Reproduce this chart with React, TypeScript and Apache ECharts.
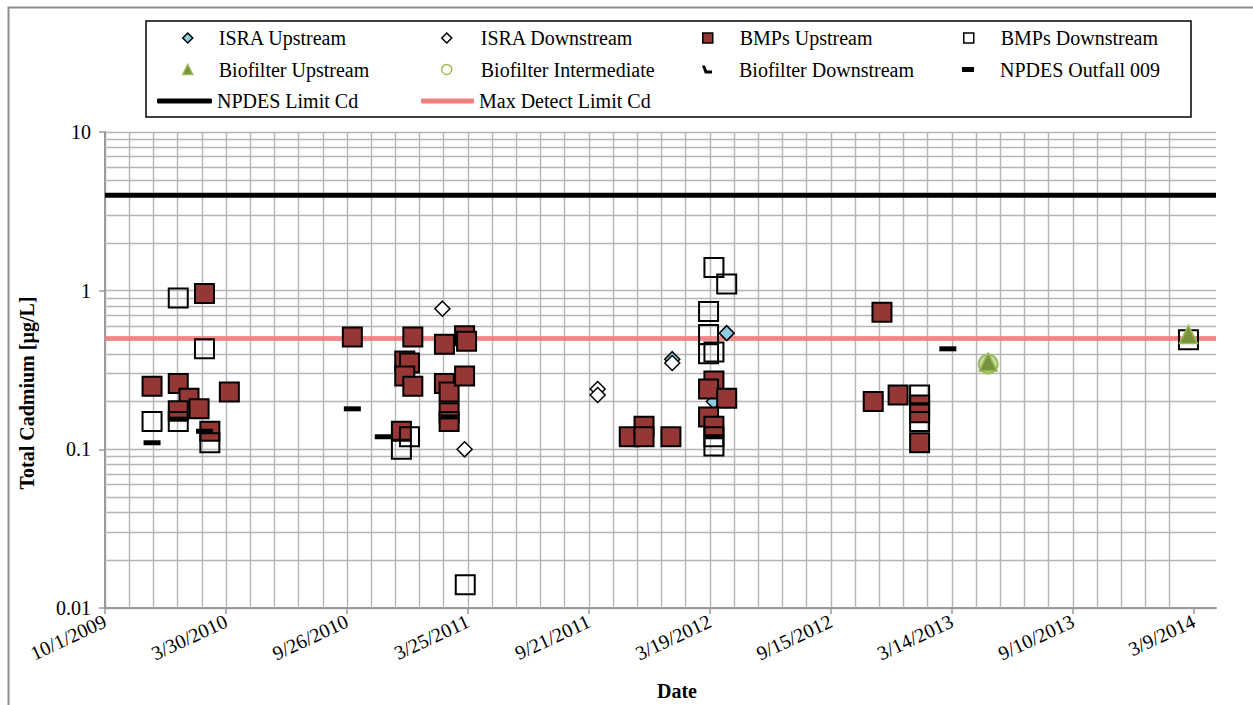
import React, { useEffect, useRef } from "react";
import * as echarts from "echarts";

// ---------- data ----------
const START_DATE = "2009-10-01";
const END_DATE = "2014-04-11";
const TICK_DAYS = 180;
const MINOR_DAYS = 36;
const xTickDates = [
  "2009-10-01", "2010-03-30", "2010-09-26", "2011-03-25", "2011-09-21",
  "2012-03-19", "2012-09-15", "2013-03-14", "2013-09-10", "2014-03-09",
];
const yMin = 0.01;
const yMax = 10;

const npdesLimitCd = 4;
const maxDetectLimitCd = 0.5;

const israUpstream: [string, number][] = [
  ["2012-01-23", 0.37], ["2012-03-25", 0.2], ["2012-04-13", 0.54],
];
const israDownstream: [string, number][] = [
  ["2011-02-15", 0.77], ["2011-03-20", 0.1], ["2011-10-04", 0.24],
  ["2011-10-04", 0.22], ["2012-01-23", 0.35],
];
const bmpsUpstream: [string, number][] = [
  ["2009-12-10", 0.25], ["2010-01-18", 0.26], ["2010-02-03", 0.21],
  ["2010-01-18", 0.175], ["2010-02-18", 0.18], ["2010-02-26", 0.96],
  ["2010-03-06", 0.13], ["2010-04-04", 0.23],
  ["2010-10-04", 0.51], ["2011-01-02", 0.51], ["2010-12-21", 0.36],
  ["2010-12-28", 0.35], ["2010-12-21", 0.29], ["2011-01-02", 0.25],
  ["2011-02-18", 0.46], ["2011-03-20", 0.52], ["2011-03-23", 0.48],
  ["2011-02-18", 0.26], ["2011-02-25", 0.23], ["2011-03-20", 0.29],
  ["2011-02-25", 0.17], ["2011-02-25", 0.15], ["2010-12-16", 0.13],
  ["2011-11-20", 0.12], ["2011-12-12", 0.14], ["2011-12-12", 0.12],
  ["2012-01-21", 0.12], ["2012-03-25", 0.27], ["2012-03-17", 0.24],
  ["2012-04-13", 0.21], ["2012-03-17", 0.16], ["2012-03-25", 0.14],
  ["2012-11-30", 0.73], ["2012-11-17", 0.2], ["2012-12-24", 0.22],
  ["2013-01-25", 0.19], ["2013-01-25", 0.17], ["2013-01-25", 0.11],
];
const bmpsDownstream: [string, number][] = [
  ["2009-12-10", 0.15], ["2010-01-18", 0.9], ["2010-01-18", 0.15],
  ["2010-02-26", 0.43], ["2010-03-06", 0.11], ["2010-12-28", 0.12],
  ["2010-12-16", 0.1], ["2011-03-21", 0.014], ["2012-03-25", 1.4],
  ["2012-04-13", 1.1], ["2012-03-17", 0.74], ["2012-03-17", 0.53],
  ["2012-03-17", 0.4], ["2012-03-25", 0.41], ["2012-03-25", 0.12],
  ["2012-03-25", 0.105], ["2013-01-25", 0.22], ["2013-01-25", 0.15],
  ["2014-03-01", 0.49],
];
const biofilterUpstream: [string, number][] = [
  ["2013-05-07", 0.355], ["2014-03-01", 0.53],
];
const biofilterIntermediate: [string, number][] = [["2013-05-07", 0.345]];
const biofilterDownstream: [string, number][] = [];
const npdesOutfall009: [string, number][] = [
  ["2009-12-10", 0.11], ["2010-01-18", 0.155], ["2010-02-26", 0.13],
  ["2010-10-04", 0.18], ["2010-11-19", 0.12], ["2011-02-25", 0.16],
  ["2012-03-25", 0.12], ["2013-03-08", 0.43],
];

// ---------- helpers ----------
const DAY = 86400000;
const t0 = Date.parse(START_DATE + "T00:00:00Z");
const toDay = (s: string) => Math.round((Date.parse(s + "T00:00:00Z") - t0) / DAY);
const fmtDay = (v: number) => {
  const dt = new Date(t0 + Math.round(v) * DAY);
  return `${dt.getUTCMonth() + 1}/${dt.getUTCDate()}/${dt.getUTCFullYear()}`;
};
const xMax = toDay(END_DATE);
const conv = (arr: [string, number][]) => arr.map(([s, v]) => [toDay(s), v]);

const FONT = "Liberation Serif";
const GRID = "#b5b5b5";
const labelRich = { t: { fontFamily: FONT, fontSize: 20, color: "#000" } };

export default function App() {
  const ref = useRef<HTMLDivElement>(null);
  useEffect(() => {
    if (!ref.current) return;
    const chart = echarts.init(ref.current, undefined, { renderer: "svg" });

    const minorY: number[] = [];
    for (let dec = yMin; dec < yMax * 0.99; dec *= 10) {
      for (let m = 2; m <= 9; m++) minorY.push(+(m * dec).toPrecision(3));
    }
    const minorX: number[] = [];
    for (let v = MINOR_DAYS; v < xMax; v += MINOR_DAYS) {
      if (v % TICK_DAYS !== 0) minorX.push(v);
    }
    const tickVals = xTickDates.map(toDay);

    const sq = (name: string, data: any, fill: string) => ({
      type: "scatter", name, data: conv(data), symbol: "rect", symbolSize: 19, z: 3,
      itemStyle: { color: fill, borderColor: "#000", borderWidth: 2, opacity: 1 },
    });

    const series: any[] = [
      {
        type: "line", name: "gridhelper", data: [[0, npdesLimitCd], [xMax, npdesLimitCd]],
        symbol: "none", lineStyle: { opacity: 0 }, silent: true, z: 1,
        markLine: {
          z: 1, silent: true, symbol: ["none", "none"], label: { show: false }, animation: false,
          lineStyle: { color: GRID, width: 1.4, type: "solid" },
          emphasis: { disabled: true },
          data: [...minorY.map((v) => ({ yAxis: v })), ...minorX.map((v) => ({ xAxis: v }))],
        },
      },
      {
        type: "line", name: "NPDES Limit Cd", z: 2, symbol: "none", showSymbol: false, silent: true,
        data: [[0, npdesLimitCd], [xMax, npdesLimitCd]],
        lineStyle: { color: "#000", width: 5 }, itemStyle: { color: "#000" },
      },
      {
        type: "line", name: "Max Detect Limit Cd", z: 2, symbol: "none", showSymbol: false, silent: true,
        data: [[0, maxDetectLimitCd], [xMax, maxDetectLimitCd]],
        lineStyle: { color: "#f37c7c", width: 5, opacity: 0.85 }, itemStyle: { color: "#f37c7c" },
      },
      {
        type: "scatter", name: "ISRA Upstream", data: conv(israUpstream), symbol: "diamond",
        symbolSize: 15, z: 3,
        itemStyle: { color: "#8fcbe0", borderColor: "#000", borderWidth: 1.5, opacity: 1 },
      },
      {
        type: "scatter", name: "ISRA Downstream", data: conv(israDownstream), symbol: "diamond",
        symbolSize: 15, z: 3,
        itemStyle: { color: "#ffffff", borderColor: "#000", borderWidth: 1.5, opacity: 1 },
      },
      sq("BMPs Upstream", bmpsUpstream, "#953735"),
      sq("BMPs Downstream", bmpsDownstream, "rgba(255,255,255,0)"),
      {
        type: "scatter", name: "Biofilter Intermediate", data: conv(biofilterIntermediate),
        symbol: "circle", symbolSize: 19, z: 3,
        itemStyle: { color: "rgba(155,187,89,0.55)", borderColor: "#9bbb59", borderWidth: 2, opacity: 1 },
      },
      {
        type: "scatter", name: "Biofilter Upstream", data: conv(biofilterUpstream),
        symbol: "triangle", symbolSize: 18, z: 3,
        itemStyle: { color: "#77933c", borderColor: "#9bbb59", borderWidth: 1.5, opacity: 1 },
      },
      {
        type: "scatter", name: "Biofilter Downstream", data: conv(biofilterDownstream),
        symbol: "path://M0,0 L4,0 L7,7 L14,7 L14,11 L4,11 Z", symbolSize: 10, z: 3,
        itemStyle: { color: "#000", opacity: 1 },
      },
      {
        type: "scatter", name: "NPDES Outfall 009", data: conv(npdesOutfall009),
        symbol: "rect", symbolSize: [17, 5], z: 4,
        itemStyle: { color: "#000", opacity: 1 },
      },
    ];

    const rows = [38, 69.5, 101];
    const legendDefs: any[] = [
      { name: "ISRA Upstream", left: 182, row: 0, w: 10, h: 10, pad: 21 },
      { name: "ISRA Downstream", left: 441, row: 0, w: 10, h: 10, pad: 24 },
      { name: "BMPs Upstream", left: 702, row: 0, w: 10, h: 10, pad: 22 },
      { name: "BMPs Downstream", left: 963, row: 0, w: 10, h: 10, pad: 22 },
      { name: "Biofilter Upstream", left: 182, row: 1, w: 10, h: 10, pad: 21 },
      { name: "Biofilter Intermediate", left: 441, row: 1, w: 10, h: 10, pad: 24,
        itemStyle: { color: "#ffffff", borderColor: "#9bbb59", borderWidth: 1.5 } },
      { name: "Biofilter Downstream", left: 702, row: 1, w: 10, h: 9, pad: 22 },
      { name: "NPDES Outfall 009", left: 962, row: 1, w: 12, h: 5, pad: 21 },
      { name: "NPDES Limit Cd", left: 157, row: 2, w: 55, h: 5, pad: 0, icon: "roundRect",
        itemStyle: { color: "#000", borderWidth: 0 } },
      { name: "Max Detect Limit Cd", left: 421, row: 2, w: 53, h: 5, pad: 0, icon: "roundRect",
        itemStyle: { color: "#f37c7c", borderWidth: 0 } },
    ];
    const legend = legendDefs.map((l) => {
      const item: any = { name: l.name };
      if (l.itemStyle) item.itemStyle = l.itemStyle;
      if (l.icon) item.icon = l.icon;
      return {
        show: true, left: l.left, top: rows[l.row] - 11, padding: 0, orient: "horizontal",
        itemWidth: l.w, itemHeight: l.h, selectedMode: false,
        itemStyle: { borderWidth: 1.5 },
        data: [item],
        textStyle: {
          fontFamily: FONT, fontSize: 20, color: "#000", lineHeight: 22,
          padding: [0, 0, 0, l.pad],
        },
      };
    });

    chart.setOption({
      animation: false,
      backgroundColor: "#ffffff",
      textStyle: { fontFamily: FONT, fontSize: 20 },
      grid: { left: 105, top: 132, right: 37, bottom: 97, containLabel: false },
      legend,
      xAxis: {
        type: "value", min: 0, max: xMax, interval: TICK_DAYS,
        axisLine: { show: true, onZero: false, lineStyle: { color: "#9a9a9a", width: 2 } },
        axisTick: { show: true, length: 6, customValues: tickVals, lineStyle: { color: "#9a9a9a", width: 1.5 } },
        axisLabel: {
          customValues: tickVals, rotate: 25, margin: 12,
          fontFamily: FONT, fontSize: 20, color: "#000",
          rich: labelRich,
          formatter: (v: number) => `{t|${fmtDay(v)}}`,
        },
        splitLine: { show: true, showMaxLine: false, lineStyle: { color: GRID, width: 1.4 } },
      },
      yAxis: {
        type: "log", logBase: 10, min: yMin, max: yMax,
        axisLine: { show: true, lineStyle: { color: "#9a9a9a", width: 2 } },
        axisTick: { show: true, length: 6, lineStyle: { color: "#9a9a9a", width: 1.5 } },
        axisLabel: {
          margin: 14, fontFamily: FONT, fontSize: 20, color: "#000",
          rich: labelRich,
          formatter: (v: number) => `{t|${+(+v).toPrecision(2)}}`,
        },
        splitLine: { show: true, lineStyle: { color: GRID, width: 1.4 } },
      },
      graphic: [
        { type: "rect", left: 6, top: 5, shape: { x: 0, y: 0, width: 1300, height: 760 },
          style: { fill: "none", stroke: "#8c8c8c", lineWidth: 2 }, silent: true, z: -10 },
        { type: "rect", shape: { x: 146, y: 21, width: 1045, height: 96 },
          style: { fill: "none", stroke: "#000", lineWidth: 1.5 }, silent: true },
        { type: "text", x: 27, y: 393, rotation: Math.PI / 2,
          style: { text: "Total Cadmium [µg/L]", fontFamily: FONT, fontSize: 20, fontWeight: "bold",
            fill: "#000", align: "center", verticalAlign: "middle" } },
        { type: "text", x: 677, y: 691,
          style: { text: "Date", fontFamily: FONT, fontSize: 20, fontWeight: "bold",
            fill: "#000", align: "center", verticalAlign: "middle" } },
      ],
      series,
    });
    return () => chart.dispose();
  }, []);

  return (
    <div
      ref={ref}
      style={{ position: "fixed", left: 0, top: 0, width: 1253, height: 705, background: "#fff" }}
    />
  );
}
